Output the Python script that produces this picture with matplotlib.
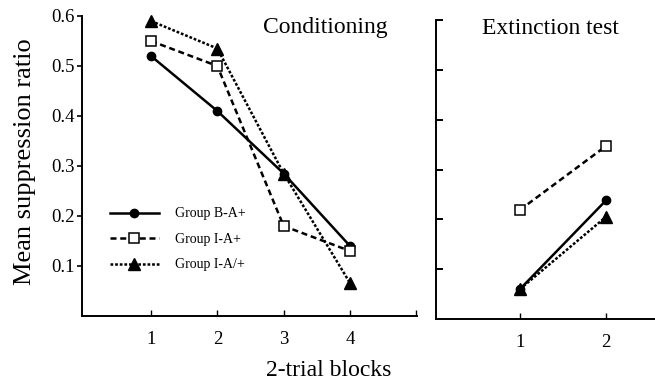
import matplotlib
matplotlib.use("Agg")
import matplotlib.pyplot as plt

plt.rcParams['font.family'] = ['Liberation Serif', 'DejaVu Serif']

# ---- data ----
cond_blocks = [1, 2, 3, 4]
ext_blocks = [1, 2]
series_names = ["Group B-A+", "Group I-A+", "Group I-A/+"]
cond_BA = [0.52, 0.41, 0.285, 0.14]
cond_IA = [0.55, 0.50, 0.18, 0.13]
cond_IAslash = [0.59, 0.535, 0.285, 0.066]
ext_BA = [0.06, 0.238]
ext_IA = [0.219, 0.347]
ext_IAslash = [0.06, 0.205]
y_ticks = [0.1, 0.2, 0.3, 0.4, 0.5, 0.6]
y_tick_labels = ["0.1", "0.2", "0.3", "0.4", "0.5", "0.6"]

W, H = 655, 386
fig = plt.figure(figsize=(W / 100, H / 100), dpi=100)

def px_axes(x0, y0, x1, y1):
    return fig.add_axes([x0 / W, 1 - y1 / H, (x1 - x0) / W, (y1 - y0) / H])

axL = px_axes(82, 16, 417, 316)
axR = px_axes(435.7, 20, 655, 319)

lw = 1.8
styles = [
    dict(color='black', lw=lw, ls='-', marker='o', ms=6, mfc='black', mec='black'),
    dict(color='black', lw=lw, ls=(0, (2.4, 1.5)), marker='s', ms=6.5, mfc='white', mec='black', mew=1.1),
    dict(color='black', lw=lw, ls=(0, (1.1, 0.75)), marker='^', ms=8.5, mfc='black', mec='black'),
]

cond_data = [cond_BA, cond_IA, cond_IAslash]
ext_data = [ext_BA, ext_IA, ext_IAslash]

handles = []
for name, vals, st in zip(series_names, cond_data, styles):
    h, = axL.plot(cond_blocks, vals, label=name, clip_on=False, **st)
    handles.append(h)
for vals, st in zip(ext_data, styles):
    axR.plot(ext_blocks, vals, clip_on=False, **st)

# left axes
axL.set_xlim(-0.04, 5.01)
axL.set_ylim(0, 0.6)
axL.set_xticks([1, 2, 3, 4, 5])
axL.set_xticklabels(["1", "2", "3", "4", ""])
axL.set_yticks(y_ticks)
axL.set_yticklabels(y_tick_labels)
axL.tick_params(axis='x', direction='in', length=4, width=1, pad=11, labelsize=13.5)
axL.tick_params(axis='y', direction='out', length=3.5, width=1.2, pad=1.5, labelsize=13.5)
for s in ['top', 'right']:
    axL.spines[s].set_visible(False)
for s in ['left', 'bottom']:
    axL.spines[s].set_linewidth(1.4)

# right axes
axR.set_xlim(0.02, 2.57)
axR.set_ylim(0, 0.6)
axR.set_xticks(ext_blocks)
axR.set_xticklabels(["1", "2"])
axR.set_yticks(y_ticks)
axR.set_yticklabels([])
axR.tick_params(axis='x', direction='in', length=4, width=1, pad=11, labelsize=13.5)
axR.tick_params(axis='y', direction='in', length=5, width=1.4, pad=1.5)
for s in ['top', 'right']:
    axR.spines[s].set_visible(False)
for s in ['left', 'bottom']:
    axR.spines[s].set_linewidth(1.4)

for ax in (axL, axR):
    ax.patch.set_alpha(0)

axL.text(0.725, 0.96, "Conditioning", transform=axL.transAxes, ha='center', va='center', fontsize=17)
axR.text(0.521, 0.973, "Extinction test", transform=axR.transAxes, ha='center', va='center', fontsize=17)

axL.legend(handles=handles, loc='upper left', bbox_to_anchor=(0.0836, 0.362), frameon=False,
           fontsize=10, handlelength=3.5, handletextpad=1.2, labelspacing=0.9,
           borderpad=0, borderaxespad=0, numpoints=1)

fig.text(25 / W, 1 - 162 / H, "Mean suppression ratio", rotation=90, ha='center', va='center', fontsize=19)
fig.text(329 / W, 1 - 370 / H, "2-trial blocks", ha='center', va='center', fontsize=17)

fig.savefig("out.png", dpi=100)
